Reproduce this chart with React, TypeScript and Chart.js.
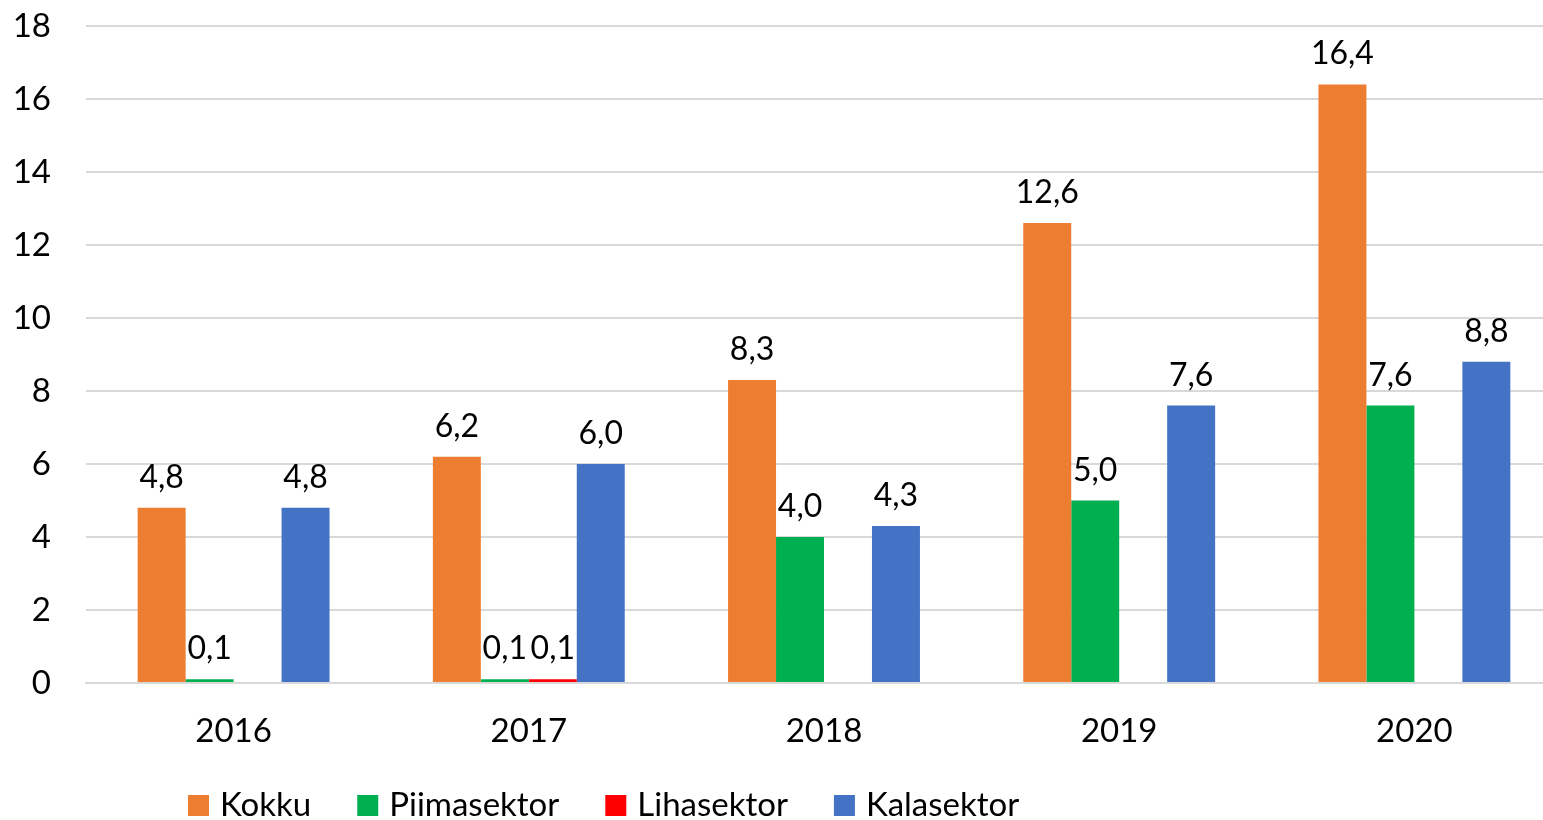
import React, { useEffect, useRef } from "react";
import { Chart, registerables } from "chart.js";

Chart.register(...registerables);

const categories = ["2016", "2017", "2018", "2019", "2020"];
const kokku = [4.8, 6.2, 8.3, 12.6, 16.4];
const piimasektor = [0.1, 0.1, 4.0, 5.0, 7.6];
const lihasektor = [null, 0.1, null, null, null];
const kalasektor = [4.8, 6.0, 4.3, 7.6, 8.8];
const seriesNames = ["Kokku", "Piimasektor", "Lihasektor", "Kalasektor"];
const seriesColors = ["#ED7D31", "#00B050", "#FF0000", "#4472C4"];
const yTicks = [0, 2, 4, 6, 8, 10, 12, 14, 16, 18];

const FONT = "Lato";

const fmt = (v: number) => v.toFixed(1).replace(".", ",");

const labelPlugin = {
  id: "barLabels",
  afterDatasetsDraw(chart: any) {
    const ctx = chart.ctx;
    ctx.save();
    ctx.font = `32px ${FONT}`;
    ctx.fillStyle = "#000";
    ctx.textAlign = "center";
    ctx.textBaseline = "alphabetic";
    chart.data.datasets.forEach((ds: any, i: number) => {
      const meta = chart.getDatasetMeta(i);
      meta.data.forEach((el: any, j: number) => {
        const v = ds.data[j];
        if (v === null || v === undefined) return;
        ctx.fillText(fmt(v), el.x, el.y - 20);
      });
    });
    ctx.restore();
  },
};

const legendPlugin = {
  id: "customLegend",
  afterDraw(chart: any) {
    const ctx = chart.ctx;
    ctx.save();
    ctx.font = `33px ${FONT}`;
    ctx.textBaseline = "alphabetic";
    ctx.textAlign = "left";
    let x = 188;
    const boxY = 795;
    const box = 21;
    seriesNames.forEach((name, i) => {
      ctx.fillStyle = seriesColors[i];
      ctx.fillRect(x, boxY, box, box);
      ctx.fillStyle = "#000";
      const tx = x + box + 11;
      ctx.fillText(name, tx, 816);
      x = tx + ctx.measureText(name).width + 46;
    });
    ctx.restore();
  },
};

export default function App() {
  const ref = useRef<HTMLCanvasElement>(null);
  useEffect(() => {
    if (!ref.current) return;
    const data = [kokku, piimasektor, lihasektor, kalasektor];
    const chart = new Chart(ref.current, {
      type: "bar",
      data: {
        labels: categories,
        datasets: seriesNames.map((n, i) => ({
          label: n,
          data: data[i] as any,
          backgroundColor: seriesColors[i],
          borderWidth: 0,
          categoryPercentage: 0.65,
          barPercentage: 1,
        })),
      },
      options: {
        responsive: false,
        animation: false,
        layout: { padding: { top: 0, left: 0, right: 0, bottom: 0 } },
        plugins: {
          legend: { display: false },
          tooltip: { enabled: false },
        },
        scales: {
          x: {
            grid: { display: false, drawTicks: false },
            border: { display: true, color: "#d9d9d9", width: 2 },
            ticks: {
              color: "#000",
              font: { family: FONT, size: 33 },
              padding: 29,
            },
            afterFit(scale: any) {
              scale.height = 137;
            },
          },
          y: {
            min: 0,
            max: 18,
            afterBuildTicks(scale: any) {
              scale.ticks = yTicks.map((v) => ({ value: v }));
            },
            grid: { color: "#d9d9d9", lineWidth: 2, drawTicks: false },
            border: { display: false },
            ticks: {
              color: "#000",
              font: { family: FONT, size: 33, lineHeight: 1 },
              padding: 35,
            },
            afterFit(scale: any) {
              scale.width = 86;
              scale.paddingTop = 26;
              scale.paddingBottom = 0;
            },
          },
        },
      },
      plugins: [labelPlugin, legendPlugin],
    });
    return () => chart.destroy();
  }, []);
  return (
    <div
      style={{
        position: "fixed",
        left: 0,
        top: 0,
        width: 1543,
        height: 820,
        overflow: "hidden",
        background: "#fff",
      }}
    >
      <canvas ref={ref} width={1562} height={820} style={{ display: "block" }} />
    </div>
  );
}
